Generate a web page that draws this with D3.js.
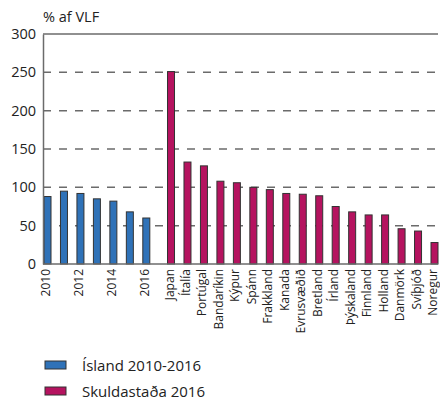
<!DOCTYPE html>
<html>
<head>
<meta charset="utf-8">
<script src="https://cdn.jsdelivr.net/npm/d3@7"></script>
<style>
  html, body { margin: 0; padding: 0; background: #fff; }
  svg { display: block; font-family: "Open Sans", "Noto Sans", sans-serif; }
</style>
</head>
<body>
<svg id="chart" width="440" height="400"></svg>
<script>
// Iceland's debt ratio by year
const years = ["2010", "2011", "2012", "2013", "2014", "2015", "2016"];
const icelandValues = [88, 95, 92, 85, 82, 68, 60];
const yearTickLabels = ["2010", "2012", "2014", "2016"];

// Debt position of other countries, 2016
const countries = ["Japan", "Ítalía", "Portúgal", "Bandaríkin", "Kýpur", "Spánn", "Frakkland",
  "Kanada", "Evrusvæðið", "Bretland", "Írland", "Þýskaland", "Finnland", "Holland",
  "Danmörk", "Svíþjóð", "Noregur"];
const countryValues = [251, 133, 128, 108, 106, 100, 97, 92, 91, 89, 75, 68, 64, 64, 46, 43, 28];

const yTicks = [0, 50, 100, 150, 200, 250, 300];
const legendLabels = ["Ísland 2010-2016", "Skuldastaða 2016"];
const colors = ["#2f72b8", "#b5135f"];

const svg = d3.select("#chart");
const plot = { left: 43, right: 438, top: 34, bottom: 264 };

const y = d3.scaleLinear().domain([0, 300]).range([plot.bottom, plot.top]);

// Slot positions: years first, then a wider gap, then countries
const gapSlots = 1.5;
const slotOf = (group, i) => group === 0 ? i : years.length - 1 + gapSlots + i;
const x = d3.scaleLinear()
  .domain([0, slotOf(1, countries.length - 1)])
  .range([47.5, 434.5]);
const barW = 7;

const bars = [
  ...years.map((k, i) => ({ key: k, value: icelandValues[i], group: 0, slot: slotOf(0, i) })),
  ...countries.map((k, i) => ({ key: k, value: countryValues[i], group: 1, slot: slotOf(1, i) }))
];

// Dashed gridlines
svg.append("g").selectAll("line")
  .data(yTicks.filter(t => t > 0 && t < 300))
  .join("line")
  .attr("x1", plot.left).attr("x2", plot.right)
  .attr("y1", d => y(d)).attr("y2", d => y(d))
  .attr("stroke", "#6b6b6b").attr("stroke-width", 1.5)
  .attr("stroke-dasharray", "8,8");

// Top frame line
svg.append("line")
  .attr("x1", plot.left).attr("x2", plot.right)
  .attr("y1", y(300)).attr("y2", y(300))
  .attr("stroke", "#6b6b6b").attr("stroke-width", 1.5);

// Bars
svg.append("g").selectAll("rect")
  .data(bars)
  .join("rect")
  .attr("x", d => x(d.slot) - barW / 2)
  .attr("width", barW)
  .attr("y", d => y(d.value))
  .attr("height", d => y(0) - y(d.value))
  .attr("fill", d => colors[d.group])
  .attr("stroke", "#333")
  .attr("stroke-width", 1);

// Y axis
const yAxis = svg.append("g")
  .attr("transform", `translate(${plot.left},0)`)
  .call(d3.axisLeft(y).tickValues(yTicks).tickSize(0).tickPadding(7));
yAxis.select(".domain").attr("stroke", "#6b6b6b").attr("stroke-width", 1.5);
yAxis.selectAll("text")
  .attr("font-size", 14.5).attr("fill", "#222")
  .attr("font-family", "'Open Sans', 'Noto Sans', sans-serif");

// Baseline
svg.append("line")
  .attr("x1", plot.left).attr("x2", plot.right)
  .attr("y1", y(0)).attr("y2", y(0))
  .attr("stroke", "#6b6b6b").attr("stroke-width", 1.5);

// Category labels, rotated
const labelData = bars.filter(d => d.group === 1 || yearTickLabels.includes(d.key));
svg.append("g").selectAll("text")
  .data(labelData)
  .join("text")
  .attr("transform", d => `translate(${x(d.slot) + 2.5},${plot.bottom + 5}) rotate(-90)`)
  .attr("text-anchor", "end")
  .attr("font-size", 12)
  .attr("fill", "#222")
  .text(d => d.key);

// Unit label
svg.append("text")
  .attr("x", plot.left).attr("y", 22)
  .attr("font-size", 14.5).attr("fill", "#222")
  .text("% af VLF");

// Legend
const legend = svg.append("g").selectAll("g")
  .data(legendLabels)
  .join("g")
  .attr("transform", (d, i) => `translate(45,${361 + i * 26})`);
legend.append("rect")
  .attr("width", 21).attr("height", 8)
  .attr("fill", (d, i) => colors[i])
  .attr("stroke", "#333").attr("stroke-width", 1);
legend.append("text")
  .attr("x", 37).attr("y", 10)
  .attr("font-size", 15).attr("fill", "#222")
  .text(d => d);
</script>
</body>
</html>
